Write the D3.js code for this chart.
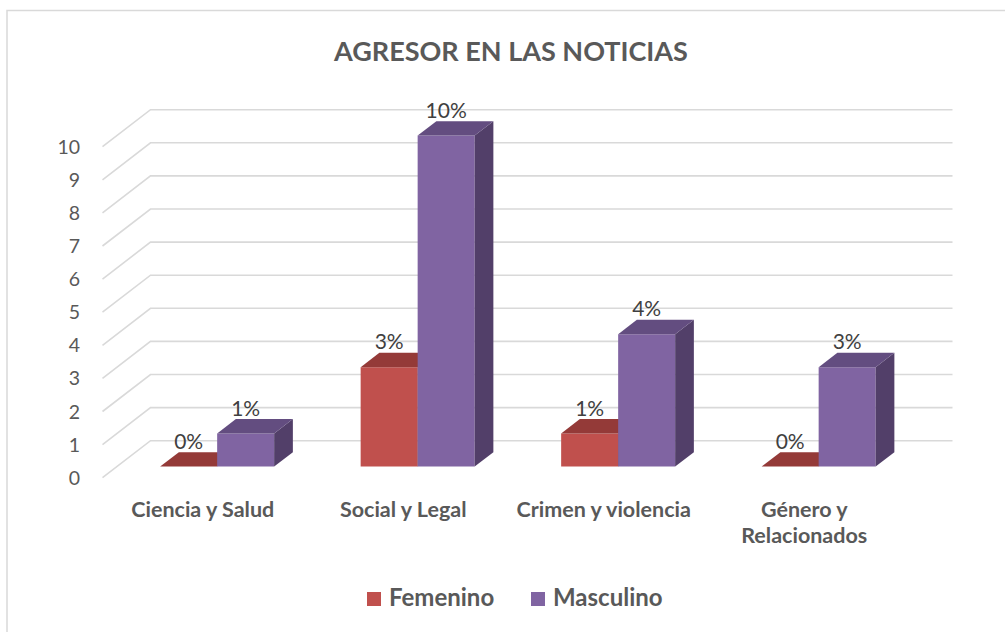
<!DOCTYPE html>
<html>
<head>
<meta charset="utf-8">
<script src="https://cdn.jsdelivr.net/npm/d3@7"></script>
<style>
  html, body { margin: 0; padding: 0; background: #fff; }
  svg { display: block; }
</style>
</head>
<body>
<svg id="chart" width="1005" height="632"></svg>
<script>
const title = "AGRESOR EN LAS NOTICIAS";
const categories = ["Ciencia y Salud", "Social y Legal", "Crimen y violencia", "Género y Relacionados"];
const categoryLines = [["Ciencia y Salud"], ["Social y Legal"], ["Crimen y violencia"], ["Género y", "Relacionados"]];
const seriesNames = ["Femenino", "Masculino"];
const femenino = [0, 3, 1, 0];
const masculino = [1, 10, 4, 3];
const yTicks = [0, 1, 2, 3, 4, 5, 6, 7, 8, 9, 10];

const colors = {
  Femenino: { front: "#c0504d", top: "#943a38", side: "#8a3533" },
  Masculino: { front: "#8064a2", top: "#634d80", side: "#523f69" }
};
const textDark = "#595959";
const labelDark = "#404040";
const gridColor = "#d9d9d9";

const svg = d3.select("#chart");
const FONT = "Lato, 'Open Sans', sans-serif";

// border
svg.append("rect").attr("x", 7).attr("y", 10.5).attr("width", 1010).attr("height", 640)
  .attr("fill", "none").attr("stroke", gridColor).attr("stroke-width", 1.5);

// title
svg.append("text").attr("x", 511).attr("y", 61).attr("text-anchor", "middle")
  .attr("font-family", FONT).attr("font-weight", "bold").attr("font-size", 27)
  .attr("fill", textDark).text(title);

// 3D geometry
const DX = 48, DY = 37;       // full depth offset
const Z0 = 0.30, Z1 = 0.69;   // bar depth span
const x = d3.scaleBand().domain(categories).range([102.5, 904.5]);
const y = d3.scaleLinear().domain([0, 10]).range([477.7, 146.7]);
const inner = d3.scaleBand().domain(seriesNames).range([-57, 57]);
const proj = (px, v, z) => [px + z * DX, y(v) - z * DY];

// gridlines: back wall + left side wall
const g = svg.append("g");
yTicks.forEach(v => {
  const a = proj(x.range()[0], v, 0), b = proj(x.range()[0], v, 1), c = proj(x.range()[1], v, 1);
  g.append("path").attr("d", `M${a[0]},${a[1]}L${b[0]},${b[1]}L${c[0]},${c[1]}`)
    .attr("fill", "none").attr("stroke", gridColor).attr("stroke-width", 1.6);
});

// y tick labels
svg.append("g").selectAll("text").data(yTicks).join("text")
  .attr("x", 80).attr("y", d => y(d) + 7).attr("text-anchor", "end")
  .attr("font-family", FONT).attr("font-size", 19.5).attr("fill", textDark)
  .text(d => d);

// bars
const seriesData = { Femenino: femenino, Masculino: masculino };
const bars = svg.append("g");
categories.forEach((cat, i) => {
  const c = x(cat) + x.bandwidth() / 2;
  seriesNames.forEach(s => {
    const v = seriesData[s][i];
    const x0 = c + inner(s), x1 = x0 + inner.bandwidth();
    const col = colors[s];
    const p = (px, val, z) => proj(px, val, z).join(",");
    if (v > 0) {
      bars.append("path").attr("d",
        `M${p(x0, 0, Z0)}L${p(x1, 0, Z0)}L${p(x1, v, Z0)}L${p(x0, v, Z0)}Z`)
        .attr("fill", col.front);
      bars.append("path").attr("d",
        `M${p(x1, 0, Z0)}L${p(x1, 0, Z1)}L${p(x1, v, Z1)}L${p(x1, v, Z0)}Z`)
        .attr("fill", col.side);
    }
    bars.append("path").attr("d",
      `M${p(x0, v, Z0)}L${p(x1, v, Z0)}L${p(x1, v, Z1)}L${p(x0, v, Z1)}Z`)
      .attr("fill", col.top);
  });
});
// data labels
categories.forEach((cat, i) => {
  const c = x(cat) + x.bandwidth() / 2;
  seriesNames.forEach(s => {
    const v = seriesData[s][i];
    const cx = c + inner(s) + inner.bandwidth() / 2;
    const pt = proj(cx, v, Z1);
    const pf = proj(cx, v, Z0);
    svg.append("text").attr("x", pf[0]).attr("y", pt[1] - 3.5).attr("text-anchor", "middle")
      .attr("font-family", FONT).attr("font-size", 21).attr("fill", labelDark)
      .text(v + "%");
  });
});

// category labels
categories.forEach((cat, i) => {
  const c = x(cat) + x.bandwidth() / 2;
  const t = svg.append("text").attr("text-anchor", "middle")
    .attr("font-family", FONT).attr("font-weight", "bold").attr("font-size", 21.5).attr("fill", textDark);
  categoryLines[i].forEach((ln, j) => {
    t.append("tspan").attr("x", c).attr("y", 517 + j * 26).text(ln);
  });
});

// legend
const legendX = [367, 531];
seriesNames.forEach((s, i) => {
  svg.append("rect").attr("x", legendX[i]).attr("y", 592).attr("width", 14).attr("height", 14)
    .attr("fill", colors[s].front);
  svg.append("text").attr("x", legendX[i] + 22).attr("y", 606)
    .attr("font-family", FONT).attr("font-weight", "bold").attr("font-size", 24).attr("fill", textDark)
    .text(s);
});
</script>
</body>
</html>
